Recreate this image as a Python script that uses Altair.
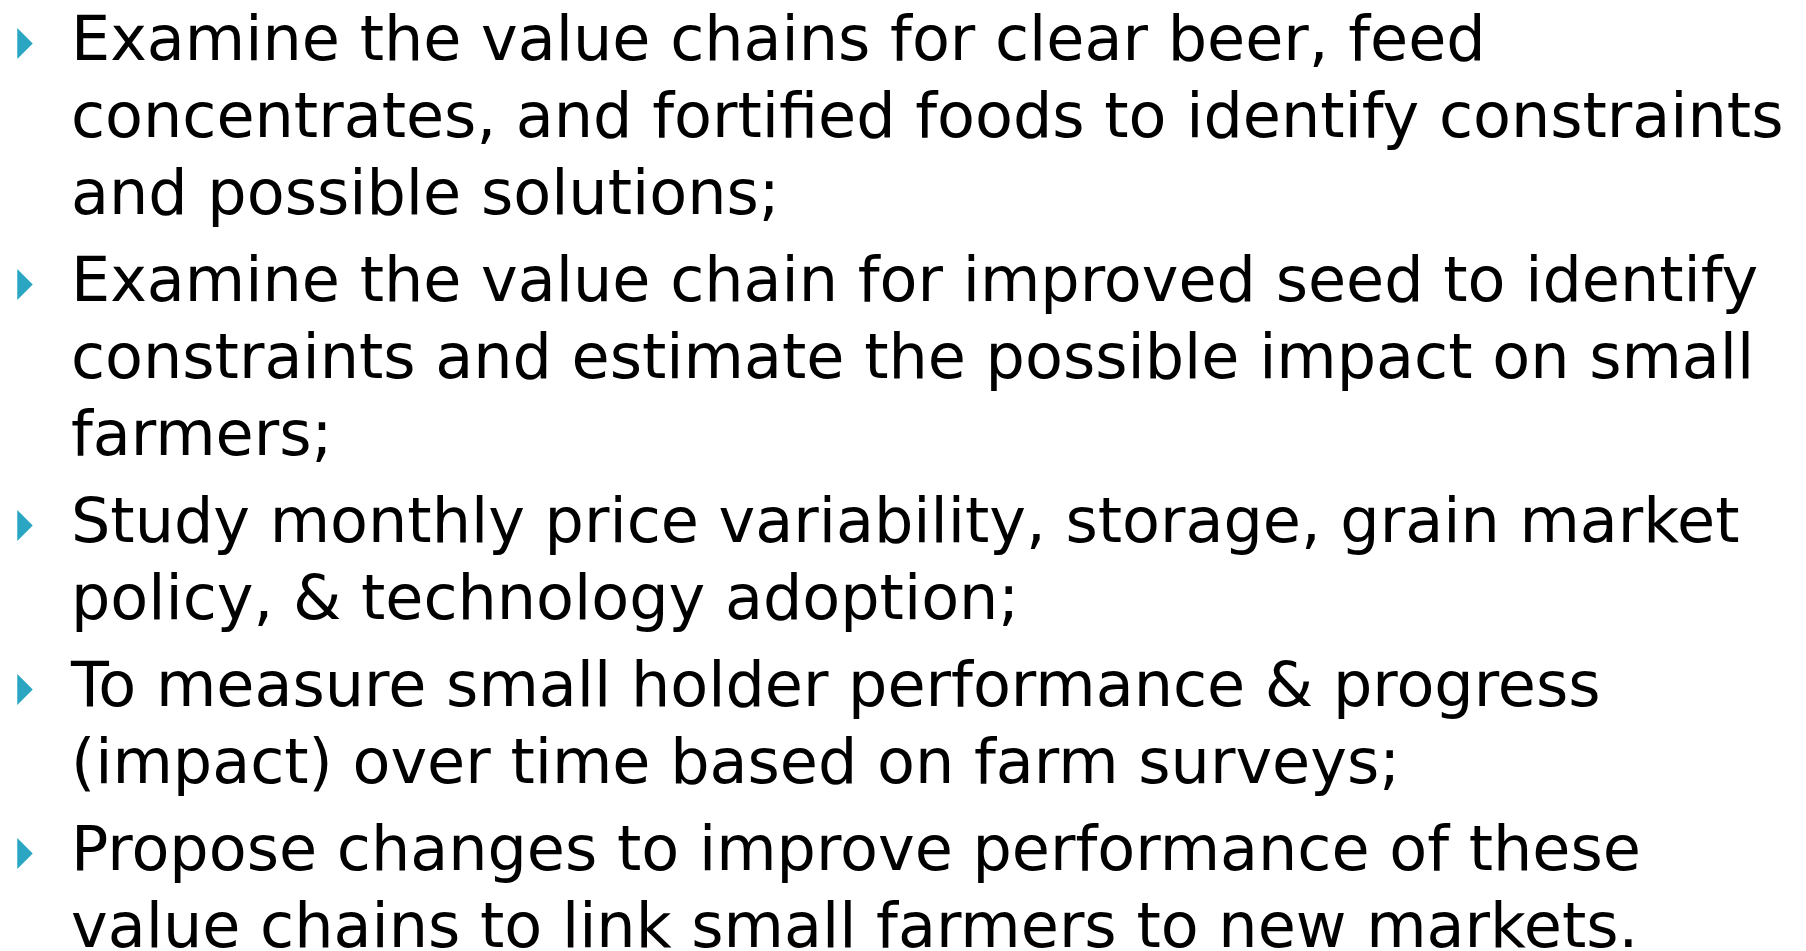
import altair as alt
import pandas as pd

# Slide content: one entry per bullet, each a list of wrapped lines
bullets = [
    ["Examine the value chains for clear beer, feed",
     "concentrates, and fortified foods to identify constraints",
     "and possible solutions;"],
    ["Examine the value chain for improved seed to identify",
     "constraints and estimate the possible impact on small",
     "farmers;"],
    ["Study monthly price variability, storage, grain market",
     "policy, & technology adoption;"],
    ["To measure small holder performance & progress",
     "(impact) over time based on farm surveys;"],
    ["Propose changes to improve performance of these",
     "value chains to link small farmers to new markets."],
]

W, H = 1790, 943
LINE = 77      # line pitch (px)
GAP = 10       # extra gap between bullets (px)
TOP = 52       # first baseline (px)
TEXT_X = 63
BULLET_X = 17

rows, marks = [], []
k = 0
for p, lines in enumerate(bullets):
    for j, t in enumerate(lines):
        y = TOP + k * LINE + p * GAP
        rows.append({"text": t, "x": TEXT_X, "y": y})
        if j == 0:
            marks.append({"x": BULLET_X, "y": y - 16.5})
        k += 1

text_df = pd.DataFrame(rows)
bullet_df = pd.DataFrame(marks)

xs = alt.Scale(domain=[0, W], nice=False, zero=False)
ys = alt.Scale(domain=[0, H], nice=False, zero=False, reverse=True)

text = alt.Chart(text_df).mark_text(
    align="left", baseline="alphabetic", font="DejaVu Sans",
    fontSize=62, color="#000000"
).encode(
    x=alt.X("x:Q", scale=xs, axis=None),
    y=alt.Y("y:Q", scale=ys, axis=None),
    text="text:N",
)

tri = alt.Chart(bullet_df).mark_point(
    shape="M-0.5,-1 L0.5,0 L-0.5,1 Z", filled=True, size=961,
    color="#2BA6C2", opacity=1, strokeWidth=0
).encode(
    x=alt.X("x:Q", scale=xs, axis=None),
    y=alt.Y("y:Q", scale=ys, axis=None),
)

chart = alt.layer(tri, text).properties(
    width=W, height=H, padding=0, background="white"
).configure_view(stroke=None)

chart.save("out.html", embed_options={"renderer": "svg", "actions": False})
